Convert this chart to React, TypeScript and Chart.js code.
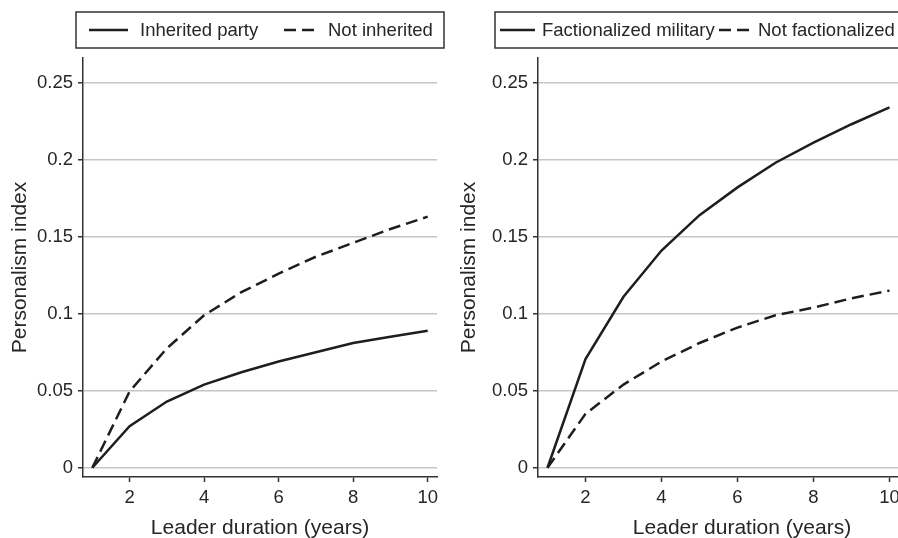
import React, { useEffect, useRef } from "react";
import { Chart, registerables } from "chart.js";

Chart.register(...registerables);

// Leader duration in years (x) and predicted personalism index (y)
const years = [1, 2, 3, 4, 5, 6, 7, 8, 9, 10];
const inheritedParty = [0, 0.027, 0.043, 0.054, 0.062, 0.069, 0.075, 0.081, 0.085, 0.089];
const notInherited = [0, 0.0495, 0.0775, 0.099, 0.114, 0.126, 0.137, 0.146, 0.155, 0.163];
const factionalizedMilitary = [0, 0.0705, 0.111, 0.141, 0.164, 0.182, 0.198, 0.211, 0.223, 0.234];
const notFactionalized = [0, 0.035, 0.054, 0.069, 0.081, 0.091, 0.099, 0.104, 0.11, 0.115];

const yTickValues = [0, 0.05, 0.1, 0.15, 0.2, 0.25];
const xTickValues = [2, 4, 6, 8, 10];

const xTitle = "Leader duration (years)";
const yTitle = "Personalism index";

const FONT = "'Liberation Sans', Arial, Helvetica, sans-serif";
const INK = "#262626";
const AXIS = "#333333";
const GRID = "#c6c6c6";
const SOLID: number[] = [];
const DASHED = [12, 6];

type LegendSpec = {
  box: [number, number, number, number];
  items: { lineX: number; lineLen: number; textX: number }[];
};

type PanelSpec = {
  left: number;
  width: number;
  padRight: number;
  yAxisWidth: number;
  xTitleCenter: number;
  yTitleX: number;
  legend: LegendSpec;
  series: { label: string; values: number[]; dash: number[] }[];
};

const panels: PanelSpec[] = [
  {
    left: 0,
    width: 449,
    padRight: 12,
    yAxisWidth: 83,
    xTitleCenter: 260,
    yTitleX: 26,
    legend: {
      box: [76, 12, 368, 36],
      items: [
        { lineX: 89, lineLen: 39, textX: 140 },
        { lineX: 284, lineLen: 32, textX: 328 },
      ],
    },
    series: [
      { label: "Inherited party", values: inheritedParty, dash: SOLID },
      { label: "Not inherited", values: notInherited, dash: DASHED },
    ],
  },
  {
    left: 449,
    width: 470,
    padRight: 20,
    yAxisWidth: 89,
    xTitleCenter: 293,
    yTitleX: 26,
    legend: {
      box: [46, 12, 412, 36],
      items: [
        { lineX: 51, lineLen: 35, textX: 93 },
        { lineX: 270, lineLen: 33, textX: 309 },
      ],
    },
    series: [
      { label: "Factionalized military", values: factionalizedMilitary, dash: SOLID },
      { label: "Not factionalized", values: notFactionalized, dash: DASHED },
    ],
  },
];

// Boxed legend above the plot, entries taken from the datasets
const boxLegendPlugin = {
  id: "boxLegend",
  afterDraw(chart: any, _args: any, opts: any) {
    const spec: LegendSpec = opts.spec;
    if (!spec) return;
    const ctx = chart.ctx;
    const [bx, by, bw, bh] = spec.box;
    const cy = by + bh / 2;
    ctx.save();
    ctx.strokeStyle = AXIS;
    ctx.lineWidth = 1.5;
    ctx.setLineDash([]);
    ctx.strokeRect(bx, by, bw, bh);
    chart.data.datasets.forEach((ds: any, i: number) => {
      const item = spec.items[i];
      if (!item) return;
      ctx.beginPath();
      ctx.setLineDash(ds.borderDash || []);
      ctx.lineWidth = ds.borderWidth;
      ctx.strokeStyle = ds.borderColor;
      ctx.moveTo(item.lineX, cy);
      ctx.lineTo(item.lineX + item.lineLen, cy);
      ctx.stroke();
      ctx.setLineDash([]);
      ctx.fillStyle = INK;
      ctx.font = `18.5px ${FONT}`;
      ctx.textAlign = "left";
      ctx.textBaseline = "middle";
      ctx.fillText(ds.label, item.textX, cy + 1);
    });
    ctx.restore();
  },
};

// Axis titles
const axisTitlesPlugin = {
  id: "axisTitles",
  afterDraw(chart: any, _args: any, opts: any) {
    const ctx = chart.ctx;
    const area = chart.chartArea;
    ctx.save();
    ctx.fillStyle = INK;
    ctx.font = `21px ${FONT}`;
    ctx.textAlign = "center";
    ctx.textBaseline = "alphabetic";
    ctx.fillText(opts.xText, opts.xCenter, 534);
    ctx.translate(opts.yX, (area.top + area.bottom) / 2);
    ctx.rotate(-Math.PI / 2);
    ctx.fillText(opts.yText, 0, 0);
    ctx.restore();
  },
};

function buildConfig(panel: PanelSpec): any {
  return {
    type: "line",
    data: {
      datasets: panel.series.map((s) => ({
        label: s.label,
        data: years.map((x, i) => ({ x, y: s.values[i] })),
        borderColor: "#1e1e1e",
        borderWidth: 2.5,
        borderDash: s.dash,
        pointRadius: 0,
        tension: 0,
        fill: false,
      })),
    },
    options: {
      animation: false,
      responsive: false,
      maintainAspectRatio: false,
      layout: { padding: { top: 58, right: panel.padRight, left: 0, bottom: 0 } },
      plugins: {
        legend: { display: false },
        tooltip: { enabled: false },
        boxLegend: { spec: panel.legend },
        axisTitles: { xText: xTitle, yText: yTitle, xCenter: panel.xTitleCenter, yX: panel.yTitleX },
      },
      scales: {
        x: {
          type: "linear",
          min: 0.75,
          max: 10.25,
          afterBuildTicks: (s: any) => {
            s.ticks = xTickValues.map((value) => ({ value }));
          },
          afterFit: (s: any) => {
            s.height = 61;
          },
          grid: { drawOnChartArea: false, drawTicks: true, tickLength: 5, tickColor: AXIS, tickWidth: 1.5 },
          border: { color: AXIS, width: 1.5 },
          ticks: {
            color: INK,
            font: { family: FONT, size: 18.5 },
            padding: 5,
            maxRotation: 0,
            autoSkip: false,
            callback: (v: any) => String(v),
          },
        },
        y: {
          type: "linear",
          min: -0.006,
          max: 0.266,
          afterBuildTicks: (s: any) => {
            s.ticks = yTickValues.map((value) => ({ value }));
          },
          afterFit: (s: any) => {
            s.width = panel.yAxisWidth;
          },
          grid: { color: GRID, lineWidth: 1.5, drawTicks: true, tickLength: 5, tickColor: AXIS, tickWidth: 1.5 },
          border: { color: AXIS, width: 1.5 },
          ticks: {
            color: INK,
            font: { family: FONT, size: 18.5 },
            padding: 5,
            autoSkip: false,
            callback: (v: any) => String(v),
          },
        },
      },
    },
    plugins: [boxLegendPlugin, axisTitlesPlugin],
  };
}

function Panel({ panel }: { panel: PanelSpec }) {
  const ref = useRef<HTMLCanvasElement | null>(null);
  useEffect(() => {
    if (!ref.current) return;
    const chart = new Chart(ref.current, buildConfig(panel));
    return () => chart.destroy();
  }, [panel]);
  return (
    <canvas
      ref={ref}
      width={panel.width}
      height={538}
      style={{ position: "absolute", left: panel.left, top: 0, width: panel.width, height: 538 }}
    />
  );
}

export default function App() {
  return (
    <div
      style={{
        position: "fixed",
        left: 0,
        top: 0,
        width: 898,
        height: 538,
        overflow: "hidden",
        background: "#ffffff",
      }}
    >
      {panels.map((p, i) => (
        <Panel key={i} panel={p} />
      ))}
    </div>
  );
}
